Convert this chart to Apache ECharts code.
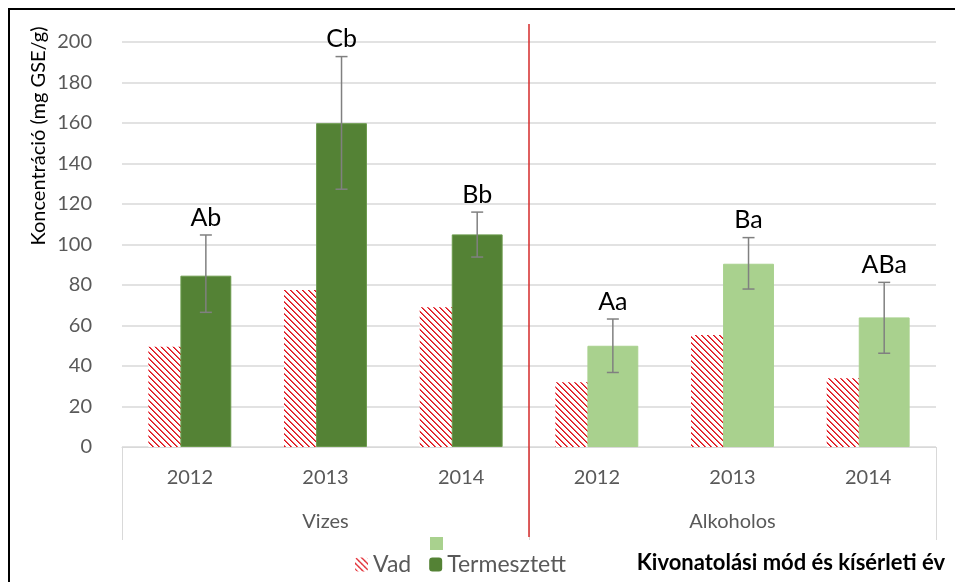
<!DOCTYPE html>
<html>
<head>
<meta charset="utf-8">
<script src="https://cdn.jsdelivr.net/npm/echarts@6/dist/echarts.min.js"></script>
<style>
html,body{margin:0;padding:0;background:#fff;}
#main{width:955px;height:582px;}
</style>
</head>
<body>
<div id="main"></div>
<script>
// ---- data ----
var years = ['2012', '2013', '2014', '2012', '2013', '2014'];
var groups = ['Vizes', 'Alkoholos'];
var vad = [49.5, 77.5, 69, 32, 55.3, 34];
var termesztett = [84.6, 159.9, 105, 50, 90.5, 64];
var errLow = [66.5, 127.3, 93.8, 36.8, 78, 46.3];
var errHigh = [104.7, 192.8, 116, 63.2, 103.4, 81.3];
var letters = ['Ab', 'Cb', 'Bb', 'Aa', 'Ba', 'ABa'];
var yTicks = { min: 0, max: 200, interval: 20 };

var FONT = 'Lato, "Open Sans", sans-serif';
var DARK = '#548235', LIGHT = '#a9d18e';

// hatched pattern
function makePattern() {
  var c = document.createElement('canvas');
  var n = 6;
  c.width = n; c.height = n;
  var ctx = c.getContext('2d');
  var img = ctx.createImageData(n, n);
  for (var y = 0; y < n; y++) {
    for (var x = 0; x < n; x++) {
      var k = ((x - y) % n + n) % n;
      var idx = (y * n + x) * 4;
      if (k === 0) { img.data[idx] = 215; img.data[idx+1] = 20; img.data[idx+2] = 30; }
      else if (k === 1) { img.data[idx] = 240; img.data[idx+1] = 80; img.data[idx+2] = 85; }
      else { img.data[idx] = 255; img.data[idx+1] = 255; img.data[idx+2] = 255; }
      img.data[idx+3] = 255;
    }
  }
  ctx.putImageData(img, 0, 0);
  return c;
}
var pattern = { image: makePattern(), repeat: 'repeat' };

var BARW = 0.375, GAP = -0.37;

var chart = echarts.init(document.getElementById('main'));
var option = {
  animation: false,
  grid: { left: 122, right: 19, top: 42, bottom: 135 },
  legend: {
    data: ['Vad', 'Termesztett'],
    left: 355, top: 553, padding: 0,
    itemWidth: 13, itemHeight: 14, itemGap: 18,
    textStyle: { color: '#595959', fontSize: 23, fontFamily: FONT },
    selectedMode: false
  },
  xAxis: [
    {
      type: 'category', data: years, position: 'bottom',
      axisLine: { show: false }, axisTick: { show: false },
      axisLabel: { color: '#595959', fontSize: 20, fontFamily: FONT, margin: 21 }
    },
    {
      type: 'category', data: groups, position: 'bottom',
      axisLine: { show: true, lineStyle: { color: '#d9d9d9', width: 1 } },
      axisTick: { show: true, length: 93, lineStyle: { color: '#d9d9d9', width: 1 } },
      axisLabel: { color: '#595959', fontSize: 20, fontFamily: FONT, margin: 65 }
    }
  ],
  yAxis: {
    type: 'value', min: yTicks.min, max: yTicks.max, interval: yTicks.interval,
    axisLine: { show: false }, axisTick: { show: false },
    splitLine: { lineStyle: { color: '#d9d9d9', width: 1.5 } },
    axisLabel: { color: '#595959', fontSize: 20, fontFamily: FONT, margin: 30 }
  },
  series: [
    {
      name: 'Vad', type: 'bar', xAxisIndex: 0, data: vad,
      barWidth: (BARW * 100) + '%', barGap: (GAP * 100) + '%',
      itemStyle: { color: pattern }
    },
    {
      name: 'Termesztett', type: 'bar', xAxisIndex: 0,
      barWidth: (BARW * 100) + '%',
      itemStyle: { color: DARK },
      data: termesztett.map(function (v, i) {
        return { value: v, itemStyle: { color: i < 3 ? DARK : LIGHT, borderColor: i < 3 ? '#6b9a4c' : LIGHT, borderWidth: 1 } };
      })
    },
    {
      name: 'err', type: 'custom', xAxisIndex: 0, z: 5,
      data: errLow.map(function (l, i) { return [i, l, errHigh[i]]; }),
      renderItem: function (params, api) {
        var i = api.value(0);
        var bw = api.size([1, 0])[0];
        var barW = bw * BARW;
        var off = barW * (1 + GAP) / 2;
        var lo = api.coord([i, api.value(1)]);
        var hi = api.coord([i, api.value(2)]);
        var x = lo[0] + off;
        var cap = 6;
        var st = { stroke: '#808080', lineWidth: 1.5 };
        return {
          type: 'group',
          children: [
            { type: 'line', shape: { x1: x, y1: lo[1], x2: x, y2: hi[1] }, style: st },
            { type: 'line', shape: { x1: x - cap, y1: lo[1], x2: x + cap, y2: lo[1] }, style: st },
            { type: 'line', shape: { x1: x - cap, y1: hi[1], x2: x + cap, y2: hi[1] }, style: st },
            { type: 'text', style: { text: letters[params.dataIndex], x: x, y: hi[1] - 5, textAlign: 'center', textVerticalAlign: 'bottom', fill: '#000', fontSize: 25, fontFamily: FONT } }
          ]
        };
      }
    }
  ]
};
chart.setOption(option);

var xa = chart.convertToPixel({ xAxisIndex: 0 }, 2);
var xb = chart.convertToPixel({ xAxisIndex: 0 }, 3);
var xm = (xa + xb) / 2;
chart.setOption({
  graphic: [
    { type: 'rect', shape: { x: 9, y: 9, width: 960, height: 600 }, style: { fill: 'none', stroke: '#000', lineWidth: 2 }, silent: true },
    { type: 'line', shape: { x1: xm, y1: 24, x2: xm, y2: 537 }, style: { stroke: '#d42a2a', lineWidth: 1.5 }, z: 10 },
    { type: 'rect', shape: { x: 430, y: 537, width: 13, height: 13 }, style: { fill: LIGHT } },
    { type: 'text', x: 39, y: 136, rotation: Math.PI / 2, style: { text: 'Koncentráció (mg GSE/g)', fill: '#000', fontSize: 20, fontFamily: FONT, textAlign: 'center', textVerticalAlign: 'middle' } },
    { type: 'text', x: 945, y: 563, style: { text: 'Kivonatolási mód és kísérleti év', fill: '#000', fontSize: 22, fontWeight: 'bold', fontFamily: FONT, textAlign: 'right', textVerticalAlign: 'middle' } }
  ]
});
</script>
</body>
</html>
